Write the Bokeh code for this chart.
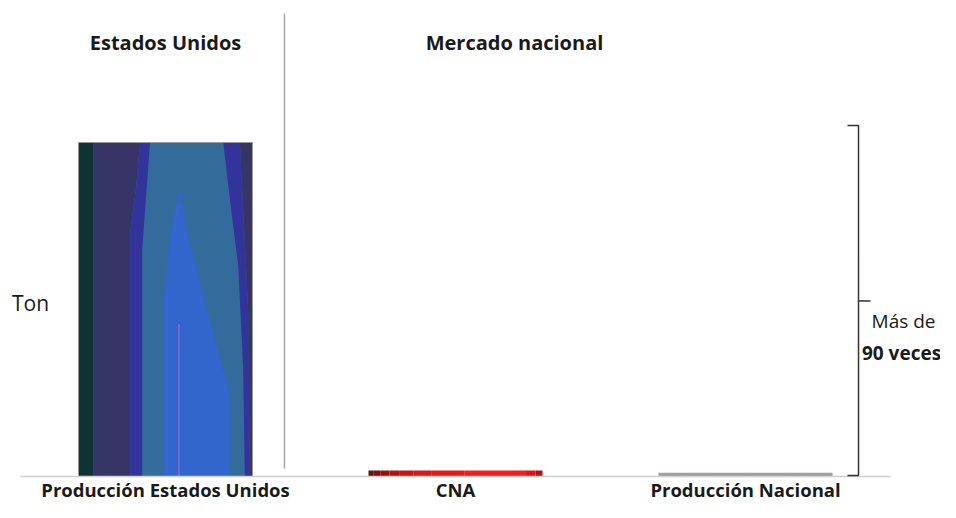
from bokeh.plotting import figure
from bokeh.models import Range1d
from bokeh.core.properties import value
from bokeh.embed import file_html
from bokeh.resources import INLINE

# ---- data ----
categories = ["Producción Estados Unidos", "CNA", "Producción Nacional"]
values = [100.0, 1.8, 1.1]          # Ton (relative)
positions = [0, 1, 2]
group_labels = ["Estados Unidos", "Mercado nacional"]
group_positions = [0, 1.2034]
y_label = "Ton"
ratio_text = ["Más de", "90 veces"]

FONT = "Open Sans"
BAR_W = 0.6
INK = "#1a1a1a"

p = figure(width=940, height=502, output_backend="svg", toolbar_location=None,
           x_range=Range1d(-0.5690, 2.6724), y_range=Range1d(-7.784, 142.51),
           min_border_left=0, min_border_right=0, min_border_top=0, min_border_bottom=0)
p.outline_line_color = None
p.xgrid.visible = False
p.ygrid.visible = False
p.xaxis.visible = False
p.yaxis.visible = False
p.background_fill_color = "white"

# ---- bar 1 : striped blue fill ----
def poly(cx, w, h, pts):
    x0 = cx - w / 2
    return [x0 + u * w for u, _ in pts], [v * h for _, v in pts]

cx, h = positions[0], values[0]
layers = [
    ("#336b9b", [(0, 0), (0, 1), (1, 1), (1, 0)]),
    ("#0c3434", [(0, 0), (0, 1), (0.086, 1), (0.086, 0)]),
    ("#363566", [(0.086, 0), (0.086, 1), (0.354, 1), (0.33, 0.86), (0.297, 0.73), (0.297, 0)]),
    ("#33339c", [(0.297, 0), (0.297, 0.73), (0.33, 0.86), (0.354, 1), (0.411, 1),
                 (0.39, 0.85), (0.366, 0.68), (0.366, 0)]),
    ("#33339c", [(0.832, 1), (0.87, 0.83), (0.918, 0.63), (0.946, 0.33), (0.956, 0),
                 (0.985, 0), (0.975, 0.5), (0.927, 1)]),
    ("#363566", [(0.927, 1), (0.975, 0.5), (0.985, 0), (1, 0), (1, 1)]),
    ("#3366cc", [(0.488, 0), (0.488, 0.505), (0.53, 0.735), (0.583, 0.86), (0.62, 0.74),
                 (0.832, 0.315), (0.86, 0.275), (0.87, 0.235), (0.87, 0)]),
]
xs_l, ys_l, cs_l = [], [], []
for col, pts in layers:
    xx, yy = poly(cx, BAR_W, h, pts)
    xs_l.append(xx); ys_l.append(yy); cs_l.append(col)
p.patches(xs_l, ys_l, fill_color=cs_l, line_color=None)
px = cx - BAR_W / 2 + 0.577 * BAR_W
p.segment(x0=[px], y0=[0], x1=[px], y1=[0.455 * h], line_color="#8a6ad0", line_width=1.5)
p.quad(left=[cx - BAR_W / 2], right=[cx + BAR_W / 2], bottom=[0], top=[h],
       fill_color=None, line_color="#9a9a9a", line_width=1)

# ---- CNA bar : red gradient ----
cx2, h2 = positions[1], values[1]
red_stripes = [(0.0, 0.03, "#5e1414"), (0.03, 0.07, "#7c1212"), (0.07, 0.12, "#981111"),
               (0.12, 0.18, "#b21212"), (0.18, 0.26, "#c81414"), (0.26, 0.36, "#da1616"),
               (0.36, 0.55, "#e81818"), (0.55, 0.90, "#f41c1c"), (0.90, 0.96, "#dc1616"),
               (0.96, 1.0, "#b41212")]
p.quad(left=[cx2 - BAR_W / 2 + a * BAR_W for a, _, _ in red_stripes],
       right=[cx2 - BAR_W / 2 + b * BAR_W for _, b, _ in red_stripes],
       bottom=0, top=h2, fill_color=[c for _, _, c in red_stripes], line_color=None)

# ---- Producción Nacional bar : grey ----
cx3, h3 = positions[2], values[2]
p.quad(left=[cx3 - BAR_W / 2], right=[cx3 + BAR_W / 2], bottom=[0], top=[h3],
       fill_color="#a29c9c", line_color=None)
p.segment(x0=[cx3 - BAR_W / 2], y0=[0.15], x1=[cx3 + BAR_W / 2], y1=[0.15],
          line_color="#c89090", line_width=1)

# ---- baseline ----
p.segment(x0=[-0.5], y0=[0], x1=[2.5], y1=[0], line_color="#cfcfcf", line_width=1.5)

# ---- divider ----
p.segment(x0=[0.4103], y0=[2.4], x1=[0.4103], y1=[138.6], line_color="#a8a8a8", line_width=1.5)

# ---- category labels ----
p.text(x=positions, y=[-3.9] * len(positions), text=categories, text_font=value(FONT),
       text_font_style="bold", text_font_size="18.5px", text_align="center",
       text_baseline="middle", text_color=INK)

# ---- group headers ----
p.text(x=group_positions, y=[129.9] * len(group_positions), text=group_labels,
       text_font=value(FONT), text_font_style="bold", text_font_size="20px",
       text_align="center", text_baseline="middle", text_color=INK)

# ---- y label ----
p.text(x=[-0.4655], y=[51.8], text=[y_label], text_font=value(FONT), text_font_size="21px",
       text_align="center", text_baseline="middle", text_color=INK)

# ---- bracket ----
top_b = values[0] * 1.051
bx, bl, br = 2.3897, 2.3517, 2.4310
mid_b = top_b * 0.5
p.multi_line(xs=[[bl, bx, bx, bl], [bx, br]], ys=[[top_b, top_b, 0.3, 0.3], [mid_b, mid_b]],
             line_color="#333333", line_width=1.5)
p.text(x=[2.545], y=[46.7], text=[ratio_text[0]], text_font=value(FONT), text_font_size="19px",
       text_align="center", text_baseline="middle", text_color=INK)
p.text(x=[2.538], y=[37.1], text=[ratio_text[1]], text_font=value(FONT), text_font_size="19px",
       text_font_style="bold", text_align="center", text_baseline="middle", text_color=INK)

open("out.html", "w").write(file_html(p, INLINE))
